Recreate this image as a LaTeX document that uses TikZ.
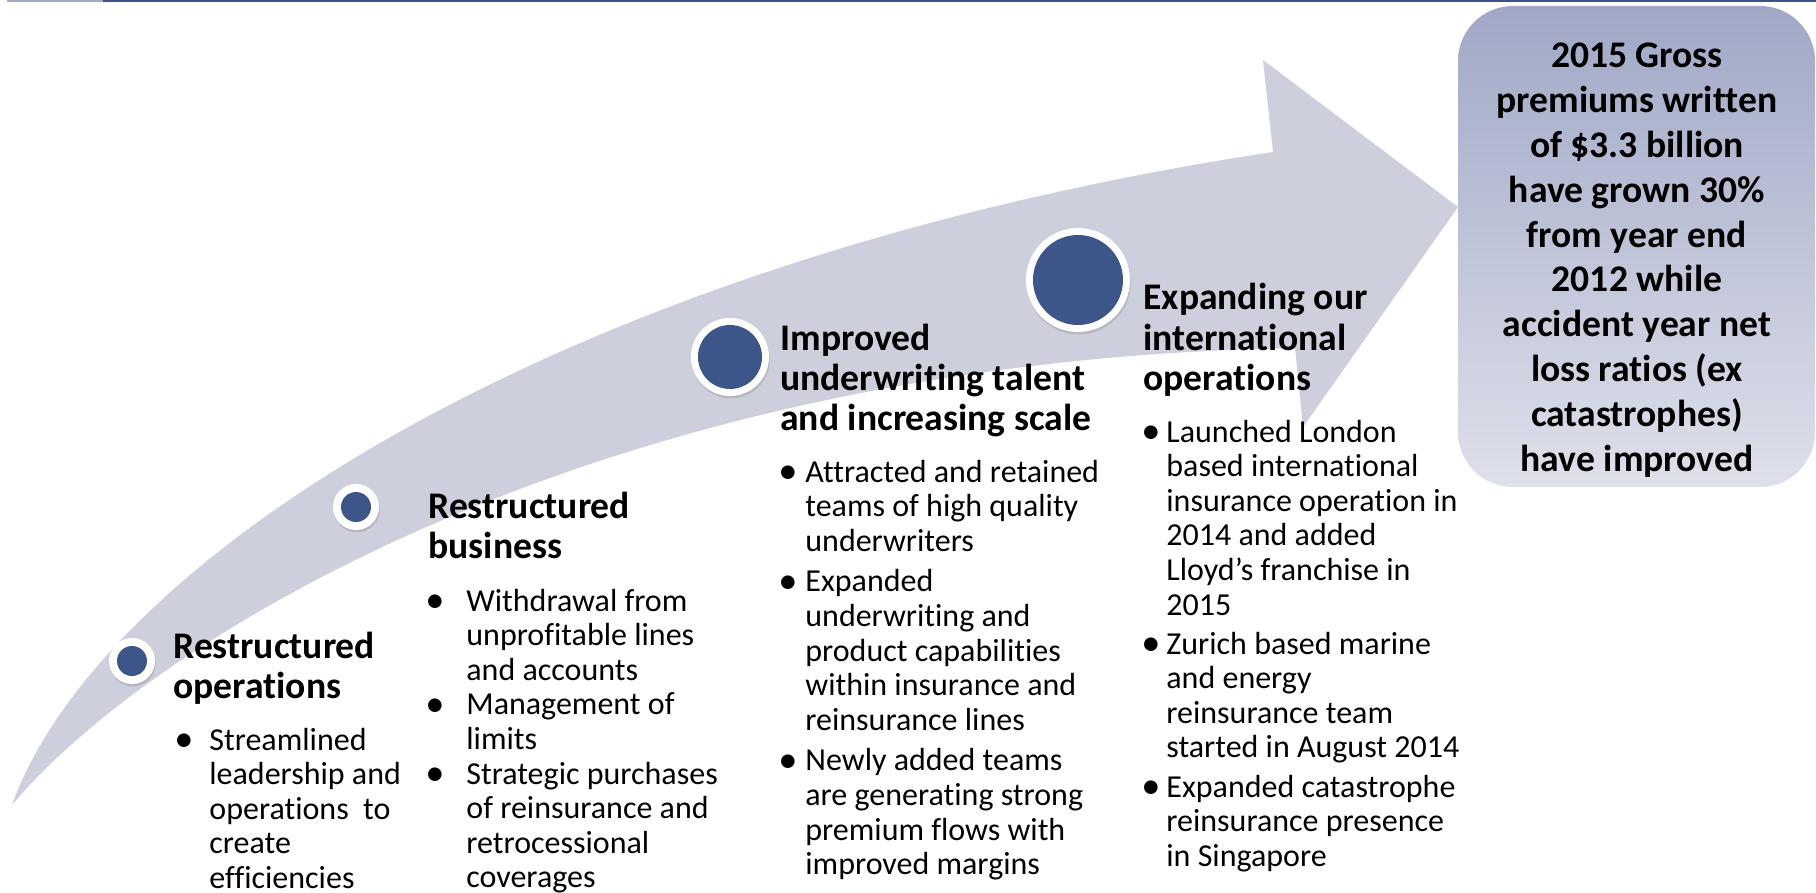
\documentclass[tikz,border=0pt]{standalone}
\usepackage{fontspec}
\usepackage{graphicx}
\setmainfont{Carlito}[Ligatures={NoCommon}]
\usetikzlibrary{shadows}

\definecolor{bandgrey}{RGB}{205,208,220}
\definecolor{dotblue}{RGB}{61,85,137}
\definecolor{barblue}{RGB}{62,82,137}
\definecolor{barlight}{RGB}{162,170,198}
\definecolor{boxtop}{RGB}{160,168,198}
\definecolor{boxbot}{RGB}{222,224,234}

\newcommand{\headfont}{\fontsize{18.8}{20}\selectfont\bfseries}
\newcommand{\bodyfont}{\fontsize{16}{17.3}\selectfont}
\newcommand{\goalfont}{\fontsize{18.8}{22.4}\selectfont\bfseries}
\newcommand{\blt}{\raisebox{-0.7pt}{\scalebox{1.2}{•}}}

\tikzset{
  milestone/.style 2 args={circle, fill=white, draw=none, inner sep=0pt,
    minimum size=#1,
    drop shadow={shadow xshift=0.4pt, shadow yshift=-1.2pt, opacity=0.3},
    path picture={\fill[dotblue] (path picture bounding box.center) circle (#2);}},
  heading/.style={font=\headfont, align=left, anchor=base west, inner sep=0pt},
  bullets/.style={font=\bodyfont, anchor=base west, inner sep=0pt},
  goal/.style={rounded corners=27.5pt, top color=boxtop, bottom color=boxbot,
    draw=none, inner sep=0pt, minimum width=178.5pt, minimum height=240.5pt},
  goaltext/.style={font=\goalfont, align=center, anchor=base, inner sep=0pt}
}

\begin{document}
\begin{tikzpicture}[x=0.5pt, y=-0.5pt]
  \useasboundingbox (0,0) rectangle (1816,893);

  % top rule
  \fill[barlight] (7,0) rectangle (103,2.5);
  \fill[barblue] (103,0) rectangle (1816,2.5);

  % curved arrow
  \fill[bandgrey] (12,805) .. controls (100,560) and (560,260) .. (1273,152)
    -- (1263,60) -- (1458,207) -- (1303,427) -- (1295,348)
    .. controls (600,360) and (150,640) .. (12,805) -- cycle;

  % result box (text anchored on its last line)
  \node[goal] (goal) at (1636.5,246.5) {};
  \node[goaltext] (goaltext) at (1637,471) {2015 Gross\\premiums written\\of \$3.3 billion\\have grown 30\%\\from year end\\2012 while\\accident year net\\loss ratios (ex\\catastrophes)\\have improved};

  % milestones
  \node[milestone={23pt}{7.5pt}] (dot1) at (132,661) {};
  \node[milestone={23pt}{7.5pt}] (dot2) at (356,507) {};
  \node[milestone={39pt}{16pt}] (dot3) at (730,357) {};
  \node[milestone={52pt}{22.5pt}] (dot4) at (1078,280) {};

  % stage 1
  \node[heading] (head1) at (173,698) {Restructured\\operations};
  \node[bullets] (list1) at (174,750) {\begin{tabular}[t]{@{}p{17.5pt}@{}l@{}}
    \blt&Streamlined\\&leadership and\\&operations~ to\\&create\\&efficiencies
  \end{tabular}};

  % stage 2
  \node[heading] (head2) at (428,558) {Restructured\\business};
  \node[bullets] (list2) at (425,611) {\begin{tabular}[t]{@{}p{20.5pt}@{}l@{}}
    \blt&Withdrawal from\\&unprofitable lines\\&and accounts\\
    \blt&Management of\\&limits\\
    \blt&Strategic purchases\\&of reinsurance and\\&retrocessional\\&coverages
  \end{tabular}};

  % stage 3
  \node[heading] (head3) at (780,430) {Improved\\underwriting talent\\and increasing scale};
  \node[bullets] (list3) at (778,482) {\begin{tabular}[t]{@{}p{13.5pt}@{}l@{}}
    \blt&Attracted and retained\\&teams of high quality\\&underwriters\\[3pt]
    \blt&Expanded\\&underwriting and\\&product capabilities\\&within insurance and\\&reinsurance lines\\[3pt]
    \blt&Newly added teams\\&are generating strong\\&premium flows with\\&improved margins
  \end{tabular}};

  % stage 4
  \node[heading] (head4) at (1143,390) {Expanding our\\international\\operations};
  \node[bullets] (list4) at (1141,442) {\begin{tabular}[t]{@{}p{12.5pt}@{}l@{}}
    \blt&Launched London\\&based international\\&insurance operation in\\&2014 and added\\&Lloyd’s franchise in\\&2015\\[2.3pt]
    \blt&Zurich based marine\\&and energy\\&reinsurance team\\&started in August 2014\\[2.3pt]
    \blt&Expanded catastrophe\\&reinsurance presence\\&in Singapore
  \end{tabular}};
\end{tikzpicture}
\end{document}
